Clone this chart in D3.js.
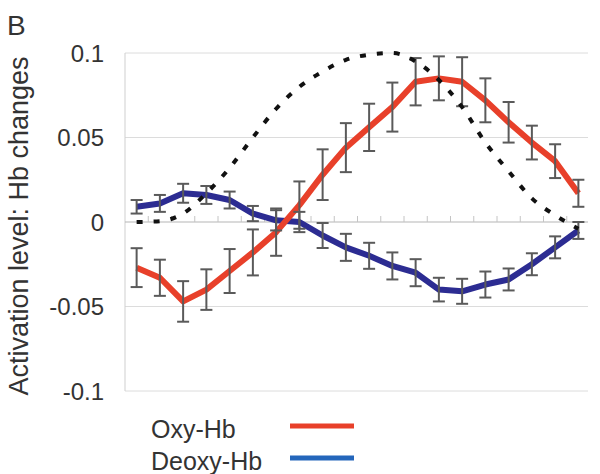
<!DOCTYPE html>
<html><head><meta charset="utf-8">
<script src="https://cdn.jsdelivr.net/npm/d3@7"></script>
<style>
html,body{margin:0;padding:0;background:#fff;}
svg{display:block;font-family:"Liberation Sans",Arial,Helvetica,sans-serif;}
</style></head>
<body>
<svg id="chart" width="600" height="474"></svg>
<script>
// ---- data ----
const timeBins = [1,2,3,4,5,6,7,8,9,10,11,12,13,14,15,16,17,18,19,20];
const oxyHb   = [-0.027,-0.033,-0.047,-0.040,-0.029,-0.018,-0.006,0.010,0.028,0.044,0.056,0.068,0.083,0.085,0.083,0.072,0.059,0.047,0.036,0.017];
const oxyErr  = [0.0115,0.0107,0.012,0.012,0.013,0.0136,0.014,0.014,0.015,0.0145,0.014,0.0145,0.014,0.013,0.0145,0.013,0.012,0.010,0.010,0.008];
const deoxyHb = [0.009,0.011,0.017,0.016,0.013,0.005,0.001,0.000,-0.008,-0.015,-0.020,-0.026,-0.030,-0.040,-0.041,-0.037,-0.034,-0.025,-0.015,-0.005];
const deoxyErr= [0.004,0.005,0.0056,0.0053,0.005,0.0045,0.006,0.006,0.0074,0.008,0.0077,0.008,0.008,0.007,0.0074,0.0077,0.0065,0.0065,0.0065,0.005];
const modelHRF= [0.000,0.0005,0.005,0.017,0.032,0.050,0.067,0.080,0.089,0.096,0.099,0.100,0.095,0.084,0.068,0.047,0.030,0.014,0.004,-0.004];
const yTicks = [-0.1,-0.05,0,0.05,0.1];
const yTickLabels = ["-0.1","-0.05","0","0.05","0.1"];
const seriesNames = ["Oxy-Hb","Deoxy-Hb"];

// ---- layout ----
const svg = d3.select("#chart");
const x = d3.scaleBand().domain(timeBins).range([125, 590]);
const y = d3.scaleLinear().domain([-0.1, 0.1]).range([391, 53]);
const cx = d => x(d) + x.bandwidth()/2;

const RED = "#e8402a", NAVY = "#2c2c92", LEGBLUE = "#2466bb", ERR = "#5a5a5a";

// gridlines
svg.append("g").selectAll("line").data(yTicks.filter(v => v !== 0)).join("line")
  .attr("x1", 125).attr("x2", 588)
  .attr("y1", d => y(d)).attr("y2", d => y(d))
  .attr("stroke", "#dcdcdc").attr("stroke-width", 1);

// left axis line
svg.append("line").attr("x1", 125).attr("x2", 125).attr("y1", y(0.1)).attr("y2", y(-0.1))
  .attr("stroke", "#cfcfcf").attr("stroke-width", 1);

// zero axis with upward ticks
svg.append("line").attr("x1", 125).attr("x2", 588).attr("y1", y(0)).attr("y2", y(0))
  .attr("stroke", "#b5b5b5").attr("stroke-width", 1.2);
svg.append("g").selectAll("line").data(timeBins.slice(1)).join("line")
  .attr("x1", d => x(d)).attr("x2", d => x(d))
  .attr("y1", y(0)).attr("y2", y(0) - 6)
  .attr("stroke", "#c4c4c4").attr("stroke-width", 1);

// y tick labels
svg.append("g").selectAll("text").data(yTicks).join("text")
  .attr("x", 104).attr("y", d => y(d)).attr("dy", "0.36em")
  .attr("text-anchor", "end").attr("font-size", 24).attr("fill", "#333")
  .text((d, i) => yTickLabels[i]);

// y title
svg.append("text")
  .attr("transform", "translate(28,226) rotate(-90)")
  .attr("text-anchor", "middle").attr("font-size", 27).attr("fill", "#333")
  .text("Activation level: Hb changes");

// panel label
svg.append("text").attr("x", 7).attr("y", 35).attr("font-size", 28).attr("fill", "#333").text("B");

// series lines
const line = vals => d3.line().x((d, i) => cx(timeBins[i])).y(d => y(d))(vals);
svg.append("path").attr("d", line(deoxyHb)).attr("fill", "none")
  .attr("stroke", NAVY).attr("stroke-width", 6).attr("stroke-linejoin", "round");
svg.append("path").attr("d", line(oxyHb)).attr("fill", "none")
  .attr("stroke", RED).attr("stroke-width", 6).attr("stroke-linejoin", "round");

// error bars
function errBars(vals, errs) {
  const g = svg.append("g").attr("stroke", ERR).attr("stroke-width", 2);
  timeBins.forEach((t, i) => {
    const xc = cx(t), y1 = y(vals[i] + errs[i]), y2 = y(vals[i] - errs[i]);
    g.append("line").attr("x1", xc).attr("x2", xc).attr("y1", y1).attr("y2", y2);
    g.append("line").attr("x1", xc - 6).attr("x2", xc + 6).attr("y1", y1).attr("y2", y1);
    g.append("line").attr("x1", xc - 6).attr("x2", xc + 6).attr("y1", y2).attr("y2", y2);
  });
}
errBars(oxyHb, oxyErr);
errBars(deoxyHb, deoxyErr);

// model (dashed)
svg.append("path")
  .attr("d", d3.line().x((d, i) => cx(timeBins[i])).y(d => y(d)).curve(d3.curveMonotoneX)(modelHRF))
  .attr("fill", "none").attr("stroke", "#111").attr("stroke-width", 4)
  .attr("stroke-dasharray", "6,11");

// legend
const leg = svg.append("g");
const legColors = [RED, LEGBLUE];
const legY = [429, 461];
seriesNames.forEach((n, i) => {
  leg.append("text").attr("x", 151).attr("y", legY[i]).attr("dy", "0.36em")
    .attr("font-size", 25).attr("fill", "#333").text(n);
  leg.append("line").attr("x1", 290).attr("x2", 354).attr("y1", legY[i] - 3).attr("y2", legY[i] - 3)
    .attr("stroke", legColors[i]).attr("stroke-width", 5);
});
</script>
</body></html>
